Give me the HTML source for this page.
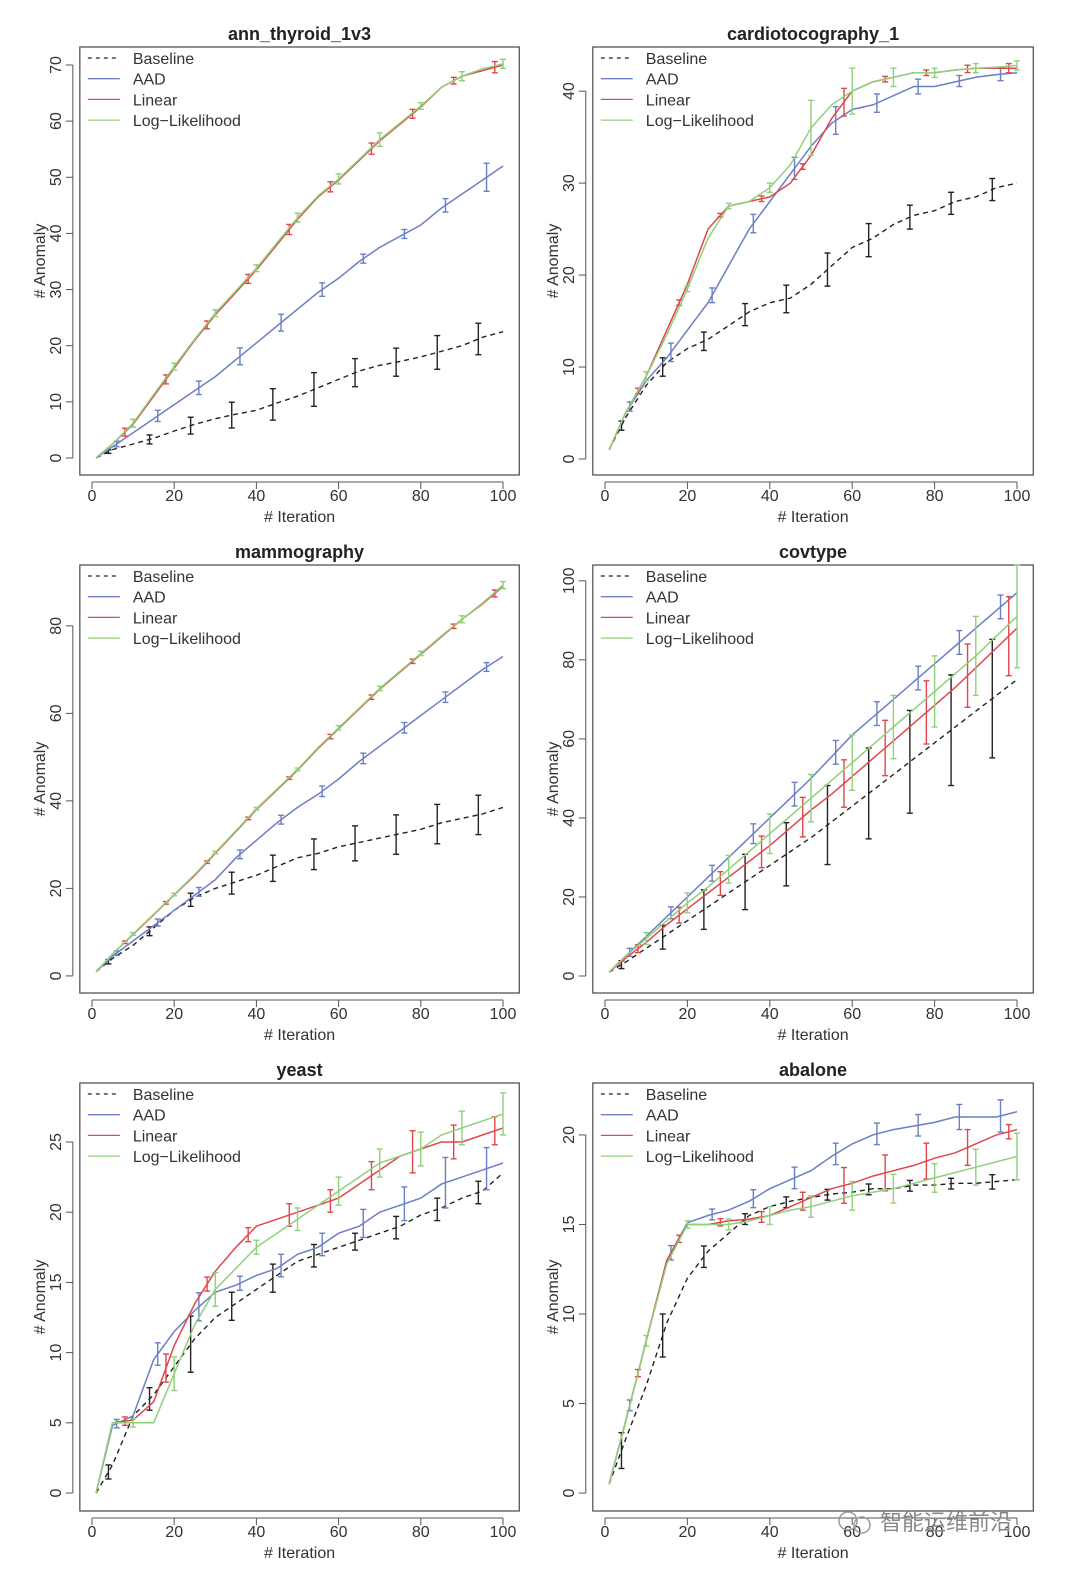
<!DOCTYPE html>
<html><head><meta charset="utf-8"><style>
body{margin:0;background:#fff;}
svg{display:block;font-family:"Liberation Sans",Arial,sans-serif;}
</style></head><body>
<svg id="chart" width="1074" height="1570" viewBox="0 0 1074 1570"></svg>
<script>
const gridX = [1,5,10,15,20,25,30,35,40,45,50,55,60,65,70,75,80,85,90,95,100];
const seriesNames = ["Baseline","AAD","Linear","Log-Likelihood"];
const titles = ["ann_thyroid_1v3","cardiotocography_1","mammography","covtype","yeast","abalone"];
const yTickSets = [[0,10,20,30,40,50,60,70],[0,10,20,30,40],[0,20,40,60,80],[0,20,40,60,80,100],[0,5,10,15,20,25],[0,5,10,15,20]];
const xTicks = [0,20,40,60,80,100];
const errOffsets = [4,6,8,10];

const p1Base=[0,1.5,2.5,3.5,4.8,6,7,7.8,8.5,9.8,11,12.5,14,15.5,16.5,17.2,18,19,20,21.5,22.5];
const p1Aad=[0,2,4.5,7,9.5,12,14.5,17.5,20.5,23.5,26.5,29.5,32,35,37.5,39.5,41.5,44.5,47,49.5,52];
const p1Lin=[0,2.5,6,11,16,21,25.5,29.5,33.5,38,42.5,46.5,49.5,53,56.5,59.5,62.5,66,68,69,70];
const p1LL=[0,2.5,6.2,11.3,16.3,21.2,25.8,29.8,33.8,38.3,42.8,46.7,49.7,53.2,56.7,59.7,62.7,66,68,69.3,70.2];
const p1Err=[[0.3,0.8,1.5,2.3,2.8,3,2.5,2.5,3,2.8],[0.5,1,1.2,1.5,1.5,1.2,0.8,0.8,1.2,2.5],[0.7,0.8,0.7,0.8,0.9,0.9,1,0.8,0.6,1],[0.7,0.6,0.6,0.6,0.8,0.9,1.2,0.6,0.8,0.8]];

const p2Base=[1,4.5,8,10.5,12,13,14.5,16,17,17.5,19,21,23,24,25.5,26.5,27,28,28.5,29.5,30];
const p2Aad=[1,5,8.5,11,14,17,21,25,28,31,34,36.5,38,38.5,39.5,40.5,40.5,41,41.5,41.8,42];
const p2Lin=[1,5,9,14,19,25,27.5,28,28.5,30,33,37,40,41,41.5,42,42,42.3,42.5,42.5,42.5];
const p2LL=[1,5,9,13.5,18.5,24,27.5,28,29.5,32,36,38.5,40,41,41.5,42,42,42.3,42.5,42.6,42.8];
const p2Err=[[0.5,1,1,1.2,1.5,1.8,1.8,1.3,1.2,1.2],[0.5,1,0.8,1,1.2,1.5,1,0.8,0.6,0.7],[0.3,0.3,0.2,0.3,0.3,1.5,0.3,0.3,0.4,0.5],[0.5,0.3,0.3,0.5,3,2.5,1,0.5,0.5,0.5]];

const p3Base=[1,4,7,11,15,18,20,21.5,23,25,27,28,29.5,30.5,31.5,32.5,33.5,35,36,37,38.5];
const p3Aad=[1,4.5,8,11.5,15,18.5,22,27,31,35,38.5,41.5,45,49,52.5,56,59.5,63,66.5,70,73];
const p3Lin=[1,5,9.5,14,18.5,23,28,33,38,42.5,47,52,56.5,61,65.5,69.5,73.5,77.5,81.5,85,89];
const p3LL=[1,5,9.6,14.1,18.6,23.2,28.2,33.2,38.2,42.7,47.2,52.2,56.7,61.2,65.7,69.7,73.7,77.7,81.5,85.2,89.3];
const p3Err=[[0.5,1,1.5,2.5,3,3.5,4,4.5,4.5,4.5],[0.5,0.8,1,1,1,1.2,1.2,1.2,1.2,1],[0.3,0.3,0.3,0.3,0.3,0.5,0.5,0.5,0.5,0.8],[0.3,0.3,0.3,0.3,0.3,0.5,0.5,0.5,0.8,0.8]];

const p4Base=[1,3.5,7,10.5,14,17.5,21,24.5,28,31.5,35,39,43,47,51,55,59,63,67,71,75];
const p4Aad=[1,5,10,15,20,25,30,35,40,45,50,55.5,61,65.5,70,74.5,79,83.5,88,92.5,97];
const p4Lin=[1,4.5,8.5,13,17,21,25,29,33,37.5,42,46,50.5,55,59.5,64,68.5,73,78,83,88];
const p4LL=[1,5,9.5,14,18.5,22.5,27,31.5,36,40.5,45,49.5,54,58.5,63,67.5,72,76.5,81,86,91];
const p4Err=[[1,3,5,7,8,10,11.5,13,14,15],[1,1.5,2,2.5,3,3,3,3,3,3],[1,2,3,4,5,6,7,8,8,10],[1.5,2.5,3.5,5,6,7,8,9,10,13]];

const p5Base=[0,2,5.5,7,9,11,12.5,13.5,14.5,15.5,16.5,17,17.5,18,18.5,19,19.8,20.3,21,21.5,22.8];
const p5Aad=[0,4.8,5.5,9.5,11.5,13,14.3,14.8,15.5,16,17,17.5,18.5,19,20,20.5,21,22,22.5,23,23.5];
const p5Lin=[0,5,5.2,6.5,10.5,13.5,15.8,17.5,19,19.5,20,20.5,21,22,23,24,24.5,25,25,25.5,26];
const p5LL=[0,5,5,5,8.5,12,14.5,16,17.5,18.5,19.5,20.5,21.5,22.5,23.5,24,24.5,25.5,26,26.5,27];
const p5Err=[[0.5,0.8,2,1,1,0.8,0.6,0.8,0.8,0.8],[0.3,0.8,1,0.5,0.8,0.8,1,1.2,1.8,1.5],[0.3,1,0.5,0.5,0.8,0.8,1,1.5,1.2,1],[0.3,1.2,1.2,0.5,0.8,1,1,1.2,1.2,1.5]];

const p6Base=[0.5,3,6,9.5,12,13.5,14.5,15.5,16,16.3,16.5,16.7,16.8,17,17,17.2,17.2,17.3,17.3,17.4,17.5];
const p6Aad=[0.5,4,8.5,13,15.1,15.5,15.8,16.3,17,17.5,18,18.8,19.5,20,20.3,20.5,20.7,21,21,21,21.3];
const p6Lin=[0.5,4,8.5,13,15,15,15.2,15.3,15.5,16,16.5,17,17.3,17.7,18,18.3,18.7,19,19.5,20,20.3];
const p6LL=[0.5,4,8.5,12.8,15,15,15,15.2,15.5,15.8,16,16.3,16.6,16.8,17,17.3,17.6,17.9,18.2,18.5,18.8];
const p6Err=[[1,1.2,0.6,0.3,0.3,0.3,0.3,0.3,0.3,0.4],[0.3,0.4,0.3,0.5,0.6,0.6,0.6,0.6,0.7,0.9],[0.2,0.2,0.2,0.3,0.5,1,1,1,1,0.4],[0.3,0.2,0.3,0.5,0.6,0.8,0.8,0.8,1,1.3]];

const panelSeries=[[p1Base,p1Aad,p1Lin,p1LL],[p2Base,p2Aad,p2Lin,p2LL],[p3Base,p3Aad,p3Lin,p3LL],[p4Base,p4Aad,p4Lin,p4LL],[p5Base,p5Aad,p5Lin,p5LL],[p6Base,p6Aad,p6Lin,p6LL]];
const panelErr=[p1Err,p2Err,p3Err,p4Err,p5Err,p6Err];
const yLims=[[-3.03,73.2],[-1.74,44.8],[-3.9,93.9],[-4.3,104],[-1.28,29.2],[-1.0,22.9]];

const colors=["#222","#6b7fc4","#e0474c","#8fd07a"];
const NS="http://www.w3.org/2000/svg";
const svg=document.getElementById("chart");
function mk(tag,attrs,parent){const e=document.createElementNS(NS,tag);for(const k in attrs)e.setAttribute(k,attrs[k]);(parent||svg).appendChild(e);return e;}
function interp(arr,x){for(let i=0;i<gridX.length-1;i++){if(x>=gridX[i]&&x<=gridX[i+1]){const t=(x-gridX[i])/(gridX[i+1]-gridX[i]);return arr[i]+t*(arr[i+1]-arr[i]);}}return arr[arr.length-1];}

const boxTops=[47,565,1083];
for(let p=0;p<6;p++){
  const col=p%2,row=Math.floor(p/2);
  const x0=col?605:92, xs=col?4.12:4.11;
  const X=v=>x0+v*xs;
  const top=boxTops[row],bot=top+428;
  const [lo,hi]=yLims[p];
  const Y=v=>bot-(v-lo)/(hi-lo)*(bot-top);
  const bl=X(-2.96),br=X(103.96);
  const g=mk("g",{});
  
  
  const t=mk("text",{x:(bl+br)/2,y:top-7,"text-anchor":"middle","font-size":"18","font-weight":"bold",fill:"#222"},g);
  t.textContent=titles[p];
  
  
  const box=mk("rect",{x:bl,y:top,width:br-bl,height:bot-top,fill:"none",stroke:"#555","stroke-width":"1.3"},g);
  
  
  const xa=mk("g",{},g);
  
  
  mk("line",{x1:X(0),x2:X(100),y1:bot+7,y2:bot+7,stroke:"#555"},xa);
  xTicks.forEach(v=>{mk("line",{x1:X(v),x2:X(v),y1:bot+7,y2:bot+14,stroke:"#555"},xa);
    const tl=mk("text",{x:X(v),y:bot+26,"text-anchor":"middle","font-size":"16",fill:"#333"},xa);tl.textContent=v;
    
    });
  const xt=mk("text",{x:(bl+br)/2,y:bot+47,"text-anchor":"middle","font-size":"16",fill:"#333"},xa);xt.textContent="# Iteration";
  
  
  const ya=mk("g",{},g);
  
  
  const yt=yTickSets[p];
  mk("line",{x1:bl-7,x2:bl-7,y1:Y(yt[0]),y2:Y(yt[yt.length-1]),stroke:"#555"},ya);
  yt.forEach(v=>{mk("line",{x1:bl-14,x2:bl-7,y1:Y(v),y2:Y(v),stroke:"#555"},ya);
    const tl=mk("text",{x:bl-19,y:Y(v),"text-anchor":"middle","font-size":"16",fill:"#333",transform:`rotate(-90 ${bl-19} ${Y(v)})`},ya);tl.textContent=v;
    
    });
  const yl=mk("text",{x:bl-35,y:(top+bot)/2,"text-anchor":"middle","font-size":"16",fill:"#333",transform:`rotate(-90 ${bl-35} ${(top+bot)/2})`},ya);yl.textContent="# Anomaly";
  
  
  for(let s=0;s<4;s++){
    const d=panelSeries[p][s];
    const pts=gridX.map((x,i)=>X(x).toFixed(1)+","+Y(d[i]).toFixed(1)).join(" ");
    const pl=mk("polyline",{points:pts,fill:"none",stroke:colors[s],"stroke-width":s?1.5:1.4,"stroke-dasharray":s?"none":"5,4"},g);
    
    
    const errs=panelErr[p][s];
    errs.forEach((h,k)=>{const ex=errOffsets[s]+10*k;const c=interp(d,ex);
      const eg=mk("g",{stroke:colors[s],"stroke-width":1.4},g);
      
      
      mk("line",{x1:X(ex),x2:X(ex),y1:Y(c-h),y2:Y(c+h)},eg);
      mk("line",{x1:X(ex)-3,x2:X(ex)+3,y1:Y(c-h),y2:Y(c-h)},eg);
      mk("line",{x1:X(ex)-3,x2:X(ex)+3,y1:Y(c+h),y2:Y(c+h)},eg);});
  }
  const lg=mk("g",{},g);
  
  
  for(let s=0;s<4;s++){
    const ly=top+11+s*20.7;
    const le=mk("g",{},lg);
    
    
    mk("line",{x1:bl+8,x2:bl+40,y1:ly,y2:ly,stroke:colors[s],"stroke-width":1.3,"stroke-dasharray":s?"none":"4,4"},le);
    const lt=mk("text",{x:bl+53,y:ly+6,"font-size":"16",fill:"#333"},le);lt.textContent=seriesNames[s].replace("-","\u2212");
  }
}
const wm=mk("g",{});


mk("circle",{cx:848,cy:1521,r:9,fill:"none",stroke:"#999","stroke-width":1.5},wm);
mk("circle",{cx:862,cy:1525,r:8,fill:"none",stroke:"#999","stroke-width":1.5},wm);
const wt=mk("text",{x:880,y:1530,"font-size":"22",fill:"#888","font-family":"'Noto Sans CJK SC',sans-serif"},wm);
wt.textContent="智能运维前沿";
</script>
</body></html>
